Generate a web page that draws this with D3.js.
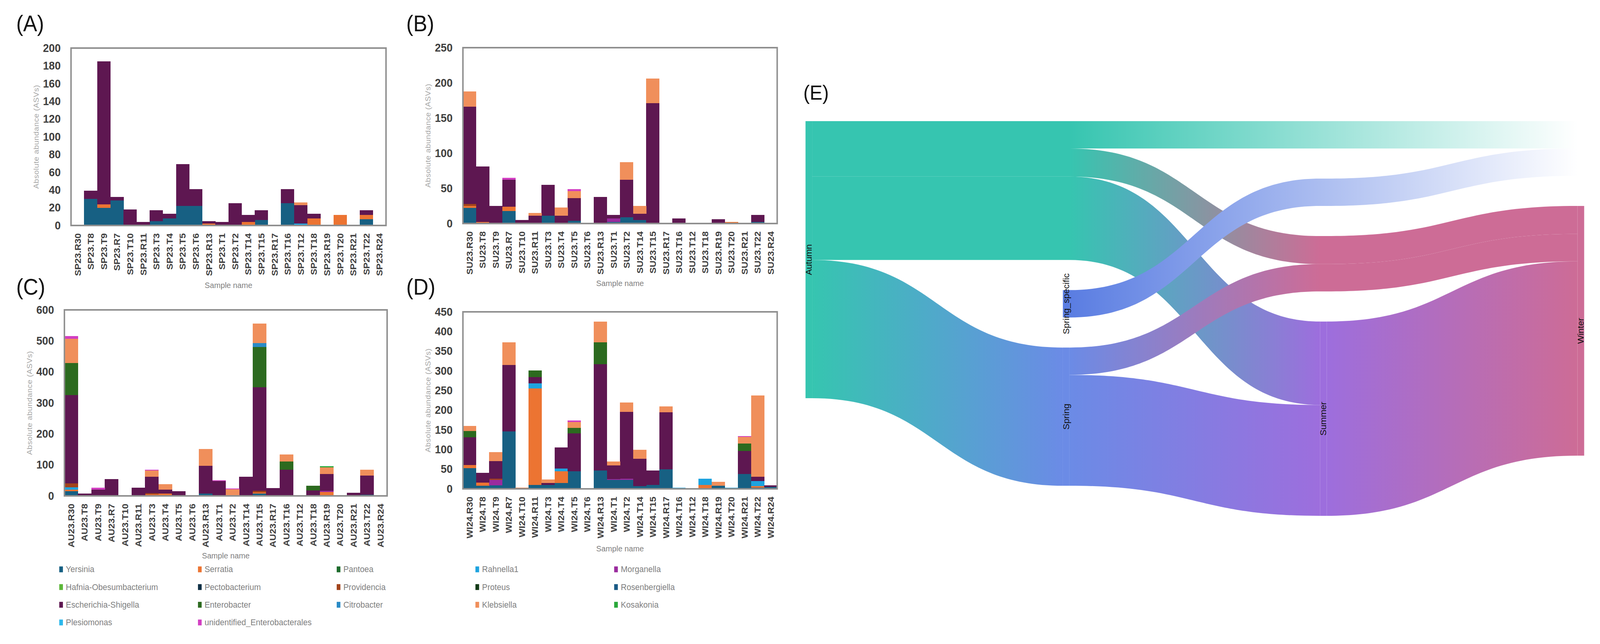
<!DOCTYPE html>
<html>
<head>
<meta charset="utf-8">
<script src="https://cdn.jsdelivr.net/npm/d3@7"></script>
<style>
  html, body { margin: 0; padding: 0; background: #fff; overflow: hidden; width: 100%; height: 100%; }
  svg { display: block; width: 100vw; height: 100vh; }
</style>
</head>
<body>
<svg id="chart" viewBox="0 0 4348 1648" preserveAspectRatio="none"></svg>
<script>
// ---------------- DATA ----------------
const genera = ["Yersinia","Serratia","Pantoea","Rahnella1","Morganella","Hafnia-Obesumbacterium","Pectobacterium","Providencia","Proteus","Rosenbergiella","Escherichia-Shigella","Enterobacter","Citrobacter","Klebsiella","Kosakonia","Plesiomonas","unidentified_Enterobacterales"];
const generaColors = ["#176083","#ec7432","#1d6b2c","#1ea3df","#9a2b9e","#5db73a","#0e2f45","#a2431b","#133a17","#1a5b86","#5e1751","#2c6a1f","#2a8bc6","#f08f5b","#2aa83b","#2cb8ec","#d23fc2"];

const siteIds = ["R30","T8","T9","R7","T10","R11","T3","T4","T5","T6","R13","T1","T2","T14","T15","R17","T16","T12","T18","R19","T20","R21","T22","R24"];
const springSamples = siteIds.map(s => "SP23." + s);
const summerSamples = siteIds.map(s => "SU23." + s);
const autumnSamples = siteIds.map(s => "AU23." + s);
const winterSamples = siteIds.map(s => "WI24." + s);

// (A) Spring 2023
const springSeries = {
  "Yersinia":             [0,30,20,28,0,0,5,8,22,22,0,0,0,0,6,0,25,0,0,0,0,0,7,0],
  "Serratia":             [0,0,4,0,0,0,0,0,0,0,2,0,0,4,0,0,0,0,8,0,12,0,5,0],
  "Pantoea":              [0,0,0,0,0,1,0,0,0,0,0,0,0,0,0,0,0,0,0,0,0,0,0,0],
  "Rahnella1":            [0,0,0,0,0,0,0,0,0,0,0,0,0,0,0,0,0,2,0,0,0,0,0,0],
  "Escherichia-Shigella": [0,9,161,4,18,3,12,5,47,19,3,4,25,8,11,0,16,21,5,0,0,0,5,0],
  "Klebsiella":           [0,0,0,0,0,0,0,0,0,0,0,0,0,0,0,0,0,3,0,0,0,0,0,0]
};
// (B) Summer 2023
const summerSeries = {
  "Yersinia":             [22,0,0,18,0,0,11,0,4,0,0,2,9,5,0,0,0,0,0,0,0,0,2,0],
  "Serratia":             [3,2,0,6,0,0,0,0,0,0,0,0,0,0,0,0,0,0,0,0,2,0,0,0],
  "Morganella":           [0,0,0,0,0,0,0,0,0,0,0,5,0,0,0,0,0,0,0,0,0,0,0,0],
  "Providencia":          [3,0,0,0,0,0,0,0,0,0,0,0,0,0,0,0,0,0,0,0,0,0,0,0],
  "Escherichia-Shigella": [138,79,25,38,5,11,44,11,32,0,38,5,53,9,171,0,7,0,0,6,0,0,10,0],
  "Klebsiella":           [22,0,0,0,0,4,0,12,10,0,0,0,25,11,35,0,0,0,0,0,0,0,0,0],
  "unidentified_Enterobacterales": [0,0,0,3,0,0,0,0,3,0,0,0,0,0,0,0,0,0,0,0,0,0,0,0]
};
// (C) Autumn 2023
const autumnSeries = {
  "Yersinia":             [15,0,0,0,0,0,0,0,0,0,7,0,0,0,7,0,0,0,0,0,0,1,4,0],
  "Serratia":             [5,0,0,0,0,0,5,8,0,0,0,0,3,0,4,0,0,0,0,12,0,0,0,0],
  "Rahnella1":            [8,0,0,0,0,0,0,0,0,0,0,0,0,0,0,0,0,0,0,0,0,0,0,0],
  "Morganella":           [0,0,0,0,0,0,0,0,0,0,0,0,0,0,0,0,0,0,0,4,0,0,0,0],
  "Providencia":          [12,0,0,0,0,0,4,0,0,0,0,0,0,0,6,0,0,0,0,0,0,0,0,0],
  "Escherichia-Shigella": [285,8,20,54,0,27,53,12,15,0,90,48,0,62,333,25,84,0,18,55,1,9,61,0],
  "Enterobacter":         [103,0,0,0,0,0,0,0,0,0,0,0,0,0,130,0,27,0,15,0,0,0,0,0],
  "Citrobacter":          [0,0,0,0,0,0,0,0,0,0,0,0,0,0,13,0,0,0,0,0,0,0,0,0],
  "Klebsiella":           [79,0,0,0,0,0,20,18,0,0,54,0,19,0,63,0,22,0,0,21,0,0,19,0],
  "Kosakonia":            [0,0,0,0,0,0,0,0,0,0,0,0,0,0,0,0,0,0,0,4,0,0,0,0],
  "unidentified_Enterobacterales": [9,0,7,0,0,0,3,0,0,0,0,2,2,0,0,0,0,0,0,0,0,0,0,0]
};
// (D) Winter 2024
const winterSeries = {
  "Yersinia":             [53,8,9,146,0,10,10,15,45,1,47,23,23,7,10,50,0,0,0,8,0,38,3,5],
  "Serratia":             [8,8,0,0,3,245,0,30,0,0,0,0,0,0,0,0,0,0,10,0,0,0,4,0],
  "Rahnella1":            [0,0,0,0,0,13,0,7,0,0,0,0,0,0,0,0,3,0,16,0,3,0,13,0],
  "Morganella":           [0,0,14,0,0,0,0,0,0,0,0,2,3,0,0,0,0,0,0,0,0,0,0,0],
  "Providencia":          [0,0,3,0,0,0,0,0,0,0,0,0,0,0,0,0,0,0,0,0,0,0,0,0],
  "Escherichia-Shigella": [70,25,45,169,0,16,5,53,96,0,270,35,170,69,37,145,0,1,0,0,0,58,11,4],
  "Enterobacter":         [16,0,0,0,0,17,0,0,14,0,56,0,0,0,0,0,0,0,0,0,0,19,0,0],
  "Klebsiella":           [13,0,22,58,0,0,9,0,15,0,52,10,24,23,0,15,0,0,0,10,0,17,206,0],
  "unidentified_Enterobacterales": [0,0,0,0,0,0,0,0,4,0,0,0,0,0,0,0,0,0,0,0,0,2,0,0]
};

const yTicksA = [0,20,40,60,80,100,120,140,160,180,200];
const yTicksB = [0,50,100,150,200,250];
const yTicksC = [0,100,200,300,400,500,600];
const yTicksD = [0,50,100,150,200,250,300,350,400,450];

// (E) Sankey
const sankeyNodeIds    = ["Autumn","Spring_specific","Spring","Summer","Winter","Unlabelled"];
const sankeyNodeLabels = ["Autumn","Spring_specific","Spring","Summer","Winter",""];
const sankeyNodeColumn = [0,1,1,2,3,3];
const sankeySources = ["Autumn","Autumn","Autumn","Autumn","Spring_specific","Spring","Spring","Summer"];
const sankeyTargets = ["Unlabelled","Winter","Summer","Spring","Unlabelled","Winter","Summer","Winter"];
const sankeyValues  = [20, 20.5, 61, 101, 20, 20, 81, 142];
// vertical ordering of nodes and pass-through links in each column (groups separated by padding)
const sankeyColumnOrder = [
  [["Autumn"]],
  [["Autumn>Unlabelled","Autumn>Winter","Autumn>Summer"], ["Spring_specific"], ["Spring"]],
  [["Autumn>Unlabelled"], ["Spring_specific>Unlabelled"], ["Autumn>Winter","Spring>Winter"], ["Summer"]],
  [["Unlabelled"], ["Winter"]]
];

// ---------------- STYLE ----------------
const FONT = "'Liberation Sans', Arial, Helvetica, sans-serif";
const sankeyNodeColors = ["#36c5b0","#5a7de2","#6b8be6","#9d6edd","#cd6c96","#ffffff"];
const panelLayout = [
  {label:"(A)", lx:44, ly:80,  left:193,  right:1049, top:123, bottom:577,  samples:springSamples, series:springSeries, ticks:yTicksA},
  {label:"(B)", lx:1104, ly:80, left:1258, right:2112, top:122, bottom:572, samples:summerSamples, series:summerSeries, ticks:yTicksB},
  {label:"(C)", lx:44, ly:754, left:175,  right:1052, top:793, bottom:1269, samples:autumnSamples, series:autumnSeries, ticks:yTicksC},
  {label:"(D)", lx:1104, ly:754, left:1258, right:2112, top:798, bottom:1251, samples:winterSamples, series:winterSeries, ticks:yTicksD}
];

const svg = d3.select("#chart");
svg.append("rect").attr("width",4348).attr("height",1648).attr("fill","#fff");
const color = d3.scaleOrdinal().domain(genera).range(generaColors);

// ---------------- BAR PANELS ----------------
panelLayout.forEach(p => {
  const g = svg.append("g");
  const x = d3.scaleBand().domain(p.samples).range([p.left, p.right]).padding(0);
  const y = d3.scaleLinear().domain([0, d3.max(p.ticks)]).range([p.bottom, p.top]);
  const rows = p.samples.map((s, i) => {
    const r = {sample: s};
    genera.forEach(k => r[k] = p.series[k] ? p.series[k][i] : 0);
    return r;
  });
  const stacked = d3.stack().keys(genera)(rows);
  g.append("g").selectAll("g").data(stacked).join("g")
    .attr("fill", d => color(d.key))
    .selectAll("rect").data(d => d.filter(v => v[1] > v[0])).join("rect")
    .attr("x", d => x(d.data.sample))
    .attr("width", x.bandwidth() + 0.5)
    .attr("y", d => y(d[1]))
    .attr("height", d => y(d[0]) - y(d[1]))
    .attr("shape-rendering", "crispEdges");

  // frame
  g.append("rect").attr("x", p.left).attr("y", p.top)
    .attr("width", p.right - p.left).attr("height", p.bottom - p.top)
    .attr("fill", "none").attr("stroke", "#8f8f8f").attr("stroke-width", 4);

  // y axis
  const ya = g.append("g").attr("transform", `translate(${p.left},0)`)
    .call(d3.axisLeft(y).tickValues(p.ticks).tickSize(0).tickPadding(28).tickFormat(d3.format("d")));
  ya.select(".domain").remove();
  ya.selectAll("text").attr("font-family", FONT).attr("font-size", 29).attr("font-weight", "bold").attr("fill", "#3f3f3f");

  // x axis
  const xa = g.append("g").attr("transform", `translate(0,${p.bottom})`)
    .call(d3.axisBottom(x).tickSize(0));
  xa.select(".domain").remove();
  xa.selectAll("text")
    .attr("font-family", FONT).attr("font-size", 24).attr("font-weight", "bold").attr("fill", "#404040")
    .attr("transform", "rotate(-90)")
    .attr("x", -20).attr("y", 0).attr("dy", "0.35em")
    .attr("text-anchor", "end");

  // titles
  g.append("text").attr("transform", `translate(${p.left - 95},${(p.top + p.bottom) / 2}) rotate(-90)`)
    .attr("text-anchor", "middle").attr("dominant-baseline", "central")
    .attr("font-family", FONT).attr("font-size", 20).attr("letter-spacing", 0.6)
    .attr("fill", "#a6a6a6").text("Absolute abundance  (ASVs)");
  g.append("text").attr("x", (p.left + p.right) / 2).attr("y", p.bottom + 153)
    .attr("text-anchor", "middle").attr("dominant-baseline", "central")
    .attr("font-family", FONT).attr("font-size", 21).attr("fill", "#7f7f7f").text("Sample name");
  g.append("text").attr("x", p.lx).attr("y", p.ly)
    .attr("font-family", FONT).attr("font-size", 57).attr("fill", "#111").text(p.label);
});

// ---------------- LEGEND ----------------
const legendX = d3.scaleLinear().domain([0, 1]).range([161, 538]);
const legendY = d3.scaleLinear().domain([0, 1]).range([1457, 1502.3]);
const leg = svg.append("g").selectAll("g").data(genera).join("g")
  .attr("transform", (d, i) => `translate(${legendX(i % 5)},${legendY(Math.floor(i / 5))})`);
leg.append("rect").attr("x", 0).attr("y", -7.5).attr("width", 10).attr("height", 15).attr("fill", d => color(d));
leg.append("text").attr("x", 18).attr("y", 0).attr("dominant-baseline", "central")
  .attr("font-family", FONT).attr("font-size", 22).attr("fill", "#7f7f7f").text(d => d);

// ---------------- SANKEY (E) ----------------
svg.append("text").attr("x", 2183).attr("y", 255)
  .attr("font-family", FONT).attr("font-size", 52).attr("fill", "#111").text("(E)");

const sk = {left: 2189, right: 4305, top: 310, bottom: 1320, nodeW: 18, pad: 77};
const nCols = d3.max(sankeyNodeColumn) + 1;
const colX = d3.scaleLinear().domain([0, nCols - 1]).range([sk.left, sk.right - sk.nodeW]);

const links = sankeySources.map((s, i) => ({
  source: s, target: sankeyTargets[i], value: sankeyValues[i], key: s + ">" + sankeyTargets[i]
}));
const nodes = sankeyNodeIds.map((id, i) => ({
  id, label: sankeyNodeLabels[i], col: sankeyNodeColumn[i], color: sankeyNodeColors[i]
}));
const nodeById = new Map(nodes.map(n => [n.id, n]));
nodes.forEach(n => {
  const vin = d3.sum(links.filter(l => l.target === n.id), l => l.value);
  const vout = d3.sum(links.filter(l => l.source === n.id), l => l.value);
  n.value = Math.max(vin, vout);
});
const linkByKey = new Map(links.map(l => [l.key, l]));
const itemValue = it => nodeById.has(it) ? nodeById.get(it).value : linkByKey.get(it).value;

// value -> pixel scale from the tallest column
const colTotals = sankeyColumnOrder.map(groups => d3.sum(groups.flat(), itemValue));
const colSpace = sankeyColumnOrder.map((groups, c) => colTotals[c] / ((sk.bottom - sk.top) - sk.pad * (groups.length - 1)));
const worst = d3.maxIndex(colSpace);
const vScale = d3.scaleLinear().domain([0, colTotals[worst]])
  .range([0, (sk.bottom - sk.top) - sk.pad * (sankeyColumnOrder[worst].length - 1)]);

const pos = new Map();
sankeyColumnOrder.forEach((groups, c) => {
  let y = sk.top;
  groups.forEach((grp, gi) => {
    if (gi > 0) y += sk.pad;
    grp.forEach(it => {
      const h = vScale(itemValue(it));
      pos.set(c + "|" + it, {y0: y, y1: y + h});
      y += h;
    });
  });
});
nodes.forEach(n => { const p = pos.get(n.col + "|" + n.id); n.y0 = p.y0; n.y1 = p.y1; });

// offsets within source / target nodes
const outOff = new Map(), inOff = new Map();
links.forEach(l => {
  const s = nodeById.get(l.source), t = nodeById.get(l.target);
  const h = vScale(l.value);
  const so = outOff.get(s.id) || 0, to = inOff.get(t.id) || 0;
  l.ys = s.y0 + so; l.yt = t.y0 + to; l.h = h;
  outOff.set(s.id, so + h); inOff.set(t.id, to + h);
  l.sc = s.col; l.tc = t.col;
  l.way = [];
  for (let c = l.sc; c <= l.tc; c++) {
    if (c === l.sc) l.way.push(l.ys);
    else if (c === l.tc) l.way.push(l.yt);
    else l.way.push(pos.get(c + "|" + l.key).y0);
  }
});

function linkPath(l) {
  const p = d3.path();
  const W = sk.nodeW;
  p.moveTo(colX(l.sc) + W, l.way[0]);
  for (let i = 0; i < l.way.length - 1; i++) {
    const c = l.sc + i;
    const xa = colX(c) + W, xb = colX(c + 1), xm = (xa + xb) / 2;
    const ya = l.way[i], yb = l.way[i + 1];
    p.bezierCurveTo(xm, ya, xm, yb, xb, yb);
    if (c + 1 < l.tc) p.lineTo(colX(c + 1) + W, yb);
  }
  const last = l.way.length - 1;
  p.lineTo(colX(l.tc), l.way[last] + l.h);
  for (let i = last; i > 0; i--) {
    const c = l.sc + i;
    if (c < l.tc) p.lineTo(colX(c), l.way[i] + l.h);
    const xb = colX(c), xa = colX(c - 1) + W, xm = (xa + xb) / 2;
    const yb = l.way[i] + l.h, ya = l.way[i - 1] + l.h;
    p.bezierCurveTo(xm, yb, xm, ya, xa, ya);
  }
  p.closePath();
  return p.toString();
}

const defs = svg.append("defs");
links.forEach((l, i) => {
  let lastFlat = l.sc;
  for (let k = 1; k < l.way.length; k++) {
    if (Math.abs(l.way[k] - l.way[0]) < 0.5) lastFlat = l.sc + k; else break;
  }
  const startCol = lastFlat === l.tc ? l.sc + 1 : lastFlat;
  const hiddenTarget = nodeById.get(l.target).label === "";
  const endX = hiddenTarget ? colX(l.tc) : colX(Math.min(startCol + 1, l.tc));
  const grad = defs.append("linearGradient").attr("id", "lg" + i)
    .attr("gradientUnits", "userSpaceOnUse")
    .attr("x1", colX(startCol) + sk.nodeW).attr("x2", endX)
    .attr("y1", 0).attr("y2", 0);
  grad.append("stop").attr("offset", "0%").attr("stop-color", nodeById.get(l.source).color);
  grad.append("stop").attr("offset", "100%").attr("stop-color", nodeById.get(l.target).color);
});

svg.append("g").selectAll("path").data(links).join("path")
  .attr("d", linkPath)
  .attr("fill", (d, i) => `url(#lg${i})`);

const visibleNodes = nodes.filter(n => n.label !== "");
svg.append("g").selectAll("rect").data(visibleNodes).join("rect")
  .attr("x", d => colX(d.col)).attr("y", d => d.y0)
  .attr("width", sk.nodeW).attr("height", d => d.y1 - d.y0)
  .attr("fill", d => d.color);

svg.append("g").selectAll("text").data(visibleNodes).join("text")
  .attr("transform", d => `translate(${colX(d.col) + sk.nodeW / 2},${(d.y0 + d.y1) / 2}) rotate(-90)`)
  .attr("text-anchor", "middle").attr("dominant-baseline", "central")
  .attr("font-family", FONT).attr("font-size", 23).attr("fill", "#111")
  .text(d => d.label);
</script>
</body>
</html>
